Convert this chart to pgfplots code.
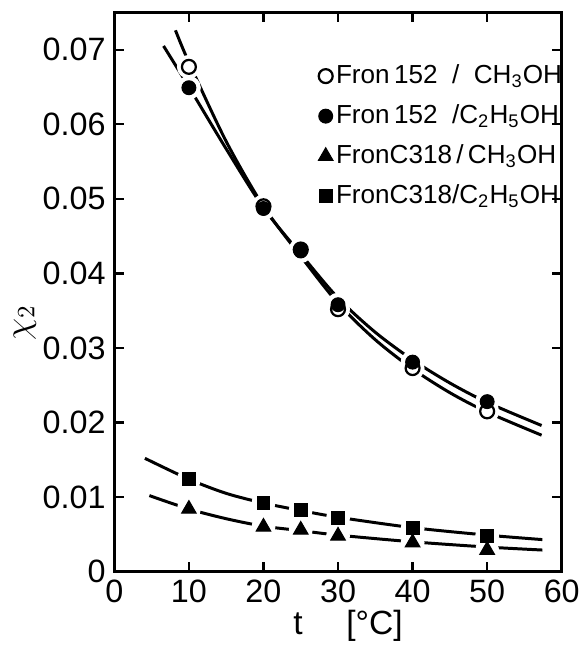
\documentclass[border=0pt]{standalone}
\usepackage{pgfplots}
\pgfplotsset{compat=1.18}
\usepackage{fontspec}
\setmainfont{Liberation Sans}

% fitted curves
\pgfplotstableread{
x y
8.2 0.0726
10 0.0683
15 0.0577
20 0.0490
25 0.0423
30 0.0360
35 0.0311
40 0.0272
45 0.0240
50 0.0214
57.3 0.0183
}\fitA
\pgfplotstableread{
x y
6.6 0.0705
10 0.0650
15 0.0567
20 0.0488
25 0.0426
30 0.0367
35 0.0321
40 0.0284
45 0.0253
50 0.0227
57.3 0.0196
}\fitB
\pgfplotstableread{
x y
4.7 0.0102
10 0.0084
15 0.0071
20 0.0061
25 0.0055
30 0.0049
40 0.0040
50 0.0033
57.4 0.0029
}\fitC
\pgfplotstableread{
x y
4.1 0.0152
10 0.0124
15 0.0105
20 0.0092
25 0.0082
30 0.0073
40 0.0059
50 0.0049
57.4 0.0043
}\fitD

% measured points
\pgfplotstableread{
x y
10 0.0677
20 0.0490
25 0.0432
30 0.0352
40 0.0273
50 0.0215
}\ptA
\pgfplotstableread{
x y
10 0.0649
20 0.0487
25 0.0430
30 0.0358
40 0.0281
50 0.0228
}\ptB
\pgfplotstableread{
x y
10 0.0084
20 0.0060
25 0.0056
30 0.0048
40 0.0039
50 0.0029
}\ptC
\pgfplotstableread{
x y
10 0.0124
20 0.0092
25 0.0083
30 0.0072
40 0.0058
50 0.0048
}\ptD

\begin{document}
\begin{tikzpicture}
\begin{axis}[
    scale only axis,
    width=180pt, height=225pt,
    xmin=0, xmax=60, ymin=0, ymax=0.075,
    xtick={0,10,...,60},
    ytick={0,0.01,...,0.07},
    yticklabels={0,0.01,0.02,0.03,0.04,0.05,0.06,0.07},
    scaled y ticks=false,
    tick align=inside,
    major tick length=4pt,
    axis line style={line width=1.3pt},
    every tick/.style={line width=0.9pt, black},
    tick label style={font=\fontsize{13}{15}\selectfont},
    /pgf/number format/assume math mode=true,
    xlabel={t\hspace{1.3em}[°C]},
    ylabel={$\chi_2$},
    xlabel style={font=\fontsize{13.5}{15}\selectfont, yshift=4pt, xshift=4pt},
    ylabel style={font=\fontsize{14}{16}\selectfont, at={(axis description cs:-0.2,0.445)}, anchor=center},
    legend style={at={(rel axis cs:0.455,0.925)}, anchor=north west, draw=none, fill=none,
        font=\fontsize{10.5}{12}\selectfont, row sep=3pt,
        inner xsep=0pt, nodes={inner xsep=1.2pt}},
    legend cell align=left,
    clip=false,
]
\path (rel axis cs:0,1) ++(0,5pt) (rel axis cs:0,0) ++(-46pt,0);
% curves
\addplot[forget plot, black, line width=1.2pt, smooth] table {\fitA};
\addplot[forget plot, black, line width=1.2pt, smooth] table {\fitB};
\addplot[forget plot, black, line width=1.2pt, smooth] table {\fitC};
\addplot[forget plot, black, line width=1.2pt, smooth] table {\fitD};
% white halos that break the curves at the points
\addplot[forget plot, only marks, mark=*, mark size=4.6pt, white] table {\ptA};
\addplot[forget plot, only marks, mark=*, mark size=4.6pt, white] table {\ptB};
\addplot[forget plot, only marks, mark=*, mark size=4.6pt, white] table {\ptC};
\addplot[forget plot, only marks, mark=*, mark size=4.6pt, white] table {\ptD};
% points
\addplot[only marks, mark=o, mark size=2.8pt, mark options={line width=0.9pt, fill=white, draw=black}] table {\ptA};
\addplot[only marks, mark=*, mark size=2.8pt, black] table {\ptB};
\addplot[only marks, mark=triangle*, mark size=3.4pt, black] table {\ptC};
\addplot[only marks, mark=square*, mark size=2.6pt, black] table {\ptD};
\legend{Fron\,152\ \ /\ \ CH\textsubscript{3}OH,
        Fron\,152\ \ /C\textsubscript{2}H\textsubscript{5}OH,
        FronC318\,/\,CH\textsubscript{3}OH,
        FronC318/C\textsubscript{2}H\textsubscript{5}OH}
\end{axis}
\end{tikzpicture}
\end{document}
